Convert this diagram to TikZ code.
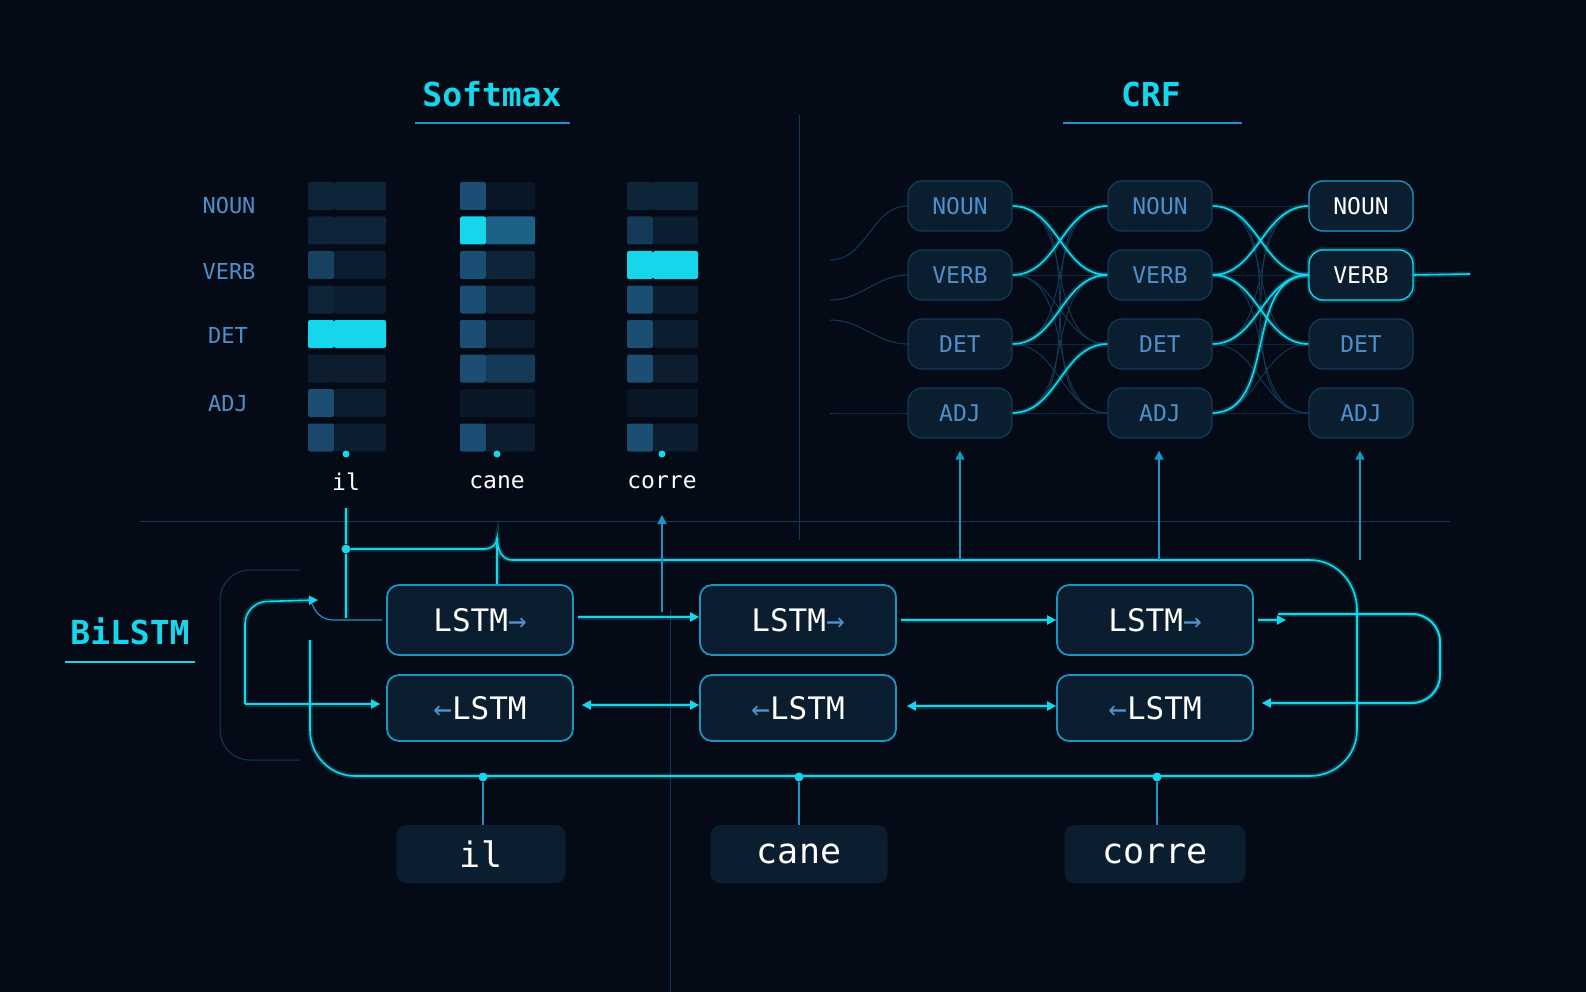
\documentclass[tikz,border=0pt]{standalone}
\usepackage{fontspec}
\setmonofont{DejaVu Sans Mono}
\usetikzlibrary{arrows.meta}
\definecolor{bg}{HTML}{050B16}
\definecolor{cy}{HTML}{16D6EC}
\definecolor{bd}{HTML}{1E94C4}
\definecolor{bx}{HTML}{0B1E30}
\definecolor{tb}{HTML}{4F8FC9}
\definecolor{cell}{HTML}{1C4E74}
\definecolor{dim}{HTML}{0E2438}
\definecolor{fl}{HTML}{123A58}
\tikzset{
 glow/.style={preaction={draw,cy,opacity=.22,line width=5pt}},
 wire/.style={cy,line width=2pt,glow},
 thin/.style={bd,line width=1.2pt},
 faint/.style={fl,line width=1pt},
 tip/.style={-{Triangle[length=9pt,width=9pt]}},
 tips/.style={{Triangle[length=9pt,width=9pt]}-{Triangle[length=9pt,width=9pt]}},
 crf/.style={draw=fl,line width=1.3pt,fill=bx,rounded corners=14pt,minimum width=104pt,minimum height=50pt,font=\fontsize{23}{23}\ttfamily,text=tb},
 lstm/.style={draw=bd,line width=1.8pt,fill=bx,rounded corners=12pt,minimum height=70pt,font=\fontsize{31}{31}\ttfamily,text=white},
 word/.style={fill=bx,rounded corners=10pt,minimum height=58pt,font=\fontsize{35}{35}\ttfamily,text=white},
 tag/.style={font=\fontsize{22}{22}\ttfamily,text=tb},
 dotn/.style={circle,fill=cy,inner sep=0,minimum size=9pt},
 ttl/.style={font=\fontsize{33}{33}\ttfamily\bfseries,text=cy},
}
\begin{document}
\begin{tikzpicture}[x=1pt,y=-1pt]
\fill[bg] (0,0) rectangle (1586,992);
\useasboundingbox (0,0) rectangle (1586,992);
% titles
\node[ttl] (tsm) at (492,94) {Softmax};
\draw[thin] (415,123) -- (570,123);
\node[ttl] (tcrf) at (1151,94) {CRF};
\draw[thin] (1063,123) -- (1242,123);
\node[ttl] (tbi) at (130,631) {BiLSTM};
\draw[thin,cy] (65,662) -- (195,662);
\draw[faint] (799,115) -- (799,540);
\draw[faint] (140,521) -- (1450,521);
\draw[faint] (670,610) -- (670,992);
% softmax labels
\node[tag] (lnoun) at (229,205) {NOUN};
\node[tag] (lverb) at (229,271) {VERB};
\node[tag] (ldet) at (228,335) {DET};
\node[tag] (ladj) at (228,404) {ADJ};
\newcommand{\smcell}[5]{\fill[#4,rounded corners=2pt] (#1,{182+34.5*#3}) rectangle ({#1+26},{182+34.5*#3+28});
 \fill[#5,rounded corners=2pt] ({#1+26},{182+34.5*#3}) rectangle (#2,{182+34.5*#3+28});}
% il
\smcell{308}{386}{0}{dim}{dim}
\smcell{308}{386}{1}{dim}{dim}
\smcell{308}{386}{2}{cell!80!bg}{dim!70!bg}
\smcell{308}{386}{3}{dim}{dim!70!bg}
\smcell{308}{386}{4}{cy}{cy}
\smcell{308}{386}{5}{dim!70!bg}{dim!70!bg}
\smcell{308}{386}{6}{cell}{dim!70!bg}
\smcell{308}{386}{7}{cell!90!bg}{dim!70!bg}
% cane
\smcell{460}{535}{0}{cell}{dim!50!bg}
\smcell{460}{535}{1}{cy}{cell!85!cy}
\smcell{460}{535}{2}{cell}{dim}
\smcell{460}{535}{3}{cell}{dim}
\smcell{460}{535}{4}{cell}{dim!70!bg}
\smcell{460}{535}{5}{cell}{cell!70!bg}
\smcell{460}{535}{6}{dim!50!bg}{dim!50!bg}
\smcell{460}{535}{7}{cell}{dim!70!bg}
% corre
\smcell{627}{698}{0}{dim}{dim}
\smcell{627}{698}{1}{cell!70!bg}{dim!70!bg}
\smcell{627}{698}{2}{cy}{cy}
\smcell{627}{698}{3}{cell}{dim!70!bg}
\smcell{627}{698}{4}{cell}{dim!70!bg}
\smcell{627}{698}{5}{cell}{dim!70!bg}
\smcell{627}{698}{6}{dim!50!bg}{dim!50!bg}
\smcell{627}{698}{7}{cell}{dim!70!bg}
\node[dotn,minimum size=7pt] (d1) at (346,454) {};
\node[dotn,minimum size=7pt] (d2) at (497,454) {};
\node[dotn,minimum size=7pt] (d3) at (662,454) {};
\node[font=\fontsize{23}{23}\ttfamily,text=white] (w1) at (346,482) {il};
\node[font=\fontsize{23}{23}\ttfamily,text=white] (w2) at (497,482) {cane};
\node[font=\fontsize{23}{23}\ttfamily,text=white] (w3) at (662,482) {corre};
% faint transitions (coordinates first)
\foreach \c/\x in {a/960,b/1160,c/1361}{
 \foreach \r/\y in {n/206,v/275,d/344,j/413}{
  \coordinate (\c\r W) at (\x-52,\y);
  \coordinate (\c\r E) at (\x+52,\y);
 }}
\foreach \s in {n,v,d,j}{\foreach \t in {n,v,d,j}{
 \draw[fl,line width=.9pt] (a\s E) to[out=0,in=180] (b\t W);
 \draw[fl,line width=.9pt] (b\s E) to[out=0,in=180] (c\t W);}}
\foreach \t/\yy in {n/260,v/300,d/320,j/413}{
 \coordinate (in\t) at (830,\yy);
 \draw[fl,line width=1pt] (in\t) to[out=0,in=180] (a\t W);}
% bright transitions
\foreach \s/\t in {n/v,v/n,d/v,j/d}{\draw[cy,line width=1.6pt,glow] (a\s E) to[out=0,in=180] (b\t W);}
\foreach \s/\t in {v/n,v/d,n/v,d/v,j/v}{\draw[cy,line width=1.6pt,glow] (b\s E) to[out=0,in=180] (c\t W);}
\coordinate (crfout) at (1470,274);
\draw[cy,line width=1.6pt,glow] (cvE) -- (crfout);
% CRF nodes
\foreach \c/\x in {a/960,b/1160,c/1361}{
 \foreach \r/\y/\t in {n/206/NOUN,v/275/VERB,d/344/DET,j/413/ADJ}{
  \node[crf] (\c\r) at (\x,\y) {\t};
 }}
\node[crf,draw=bd,text=white] (cn2) at (cn) {NOUN};
\node[crf,draw=cy,text=white,glow] (cv2) at (cv) {VERB};
% LSTM boxes
\node[lstm,minimum width=186pt] (f1) at (480,620) {LSTM{\color{tb}→}};
\node[lstm,minimum width=196pt] (f2) at (798,620) {LSTM{\color{tb}→}};
\node[lstm,minimum width=196pt] (f3) at (1155,620) {LSTM{\color{tb}→}};
\node[lstm,minimum width=186pt,minimum height=66pt] (b1) at (480,708) {{\color{tb}←}LSTM};
\node[lstm,minimum width=196pt,minimum height=66pt] (b2) at (798,708) {{\color{tb}←}LSTM};
\node[lstm,minimum width=196pt,minimum height=66pt] (b3) at (1155,708) {{\color{tb}←}LSTM};
\draw[wire,tip] ([xshift=4pt,yshift=3pt]f1.east) -- ([yshift=3pt]f2.west);
\draw[wire,tip] ([xshift=4pt]f2.east) -- (f3.west);
\draw[wire,tips] ([xshift=8pt,yshift=3pt]b1.east) -- ([yshift=3pt]b2.west);
\draw[wire,tips] ([xshift=10pt,yshift=2pt]b2.east) -- ([yshift=2pt]b3.west);
% right loop
\coordinate (rl1) at (1440,614);
\coordinate (rl2) at (1440,703);
\coordinate (rl0) at (1278,614);
\draw[wire,tip] ([xshift=4pt]f3.east) -- ++(28,0);
\draw[wire,rounded corners=28pt,tip] (rl0) -- (rl1) -- (rl2) -- ([xshift=8pt,yshift=5pt]b3.east);
% left loop
\coordinate (ll1) at (245,602);
\coordinate (ll2) at (245,704);
\coordinate (ll3) at (318,600);
\draw[wire,line width=1.6pt,rounded corners=22pt,tip] (ll2) -- (ll1) -- (ll3);
\draw[wire,line width=1.6pt,tip] (ll2) -- ([xshift=-6pt,yshift=4pt]b1.west);
\draw[thin,rounded corners=12pt] ([xshift=-4pt]f1.west) -- (320,620) -- (312,604);
% top bus
\node[dotn] (bus) at (346,549) {};
\draw[wire,line width=1.6pt] ([yshift=-14pt]w1.south) -- (bus) -- (346,618);
\draw[wire,line width=1.6pt] (bus) -- (485,549) to[out=0,in=-90] (497,538) to[out=-90,in=180] (512,560) -- (1310,560) to[out=0,in=90] (1357,610) -- (1357,730) to[out=-90,in=0] (1310,776) -- (355,776) to[out=180,in=-90] (310,730) -- (310,640);
\draw[wire,line width=1.6pt] (f1.north-|497,0) -- (497,538);
\draw[thin,tip] (662,612) -- (662,515);
\foreach \x/\n in {960/aj,1159/bj,1360/cj}{\draw[thin,tip] (\x,560) -- ([yshift=-12pt]\n.south-|\x,0);}
\draw[faint,rounded corners=30pt] (300,570) -- (220,570) -- (220,760) -- (300,760);
% words
\node[word,minimum width=169pt] (iw1) at (481,854) {il};
\node[word,minimum width=177pt] (iw2) at (799,854) {cane};
\node[word,minimum width=181pt] (iw3) at (1155,854) {corre};
\foreach \x/\w in {483/iw1,799/iw2,1157/iw3}{
 \node[dotn] (bd\w) at (\x,777) {};
 \draw[thin] (bd\w) -- (\w.north-|bd\w);}
\end{tikzpicture}
\end{document}
